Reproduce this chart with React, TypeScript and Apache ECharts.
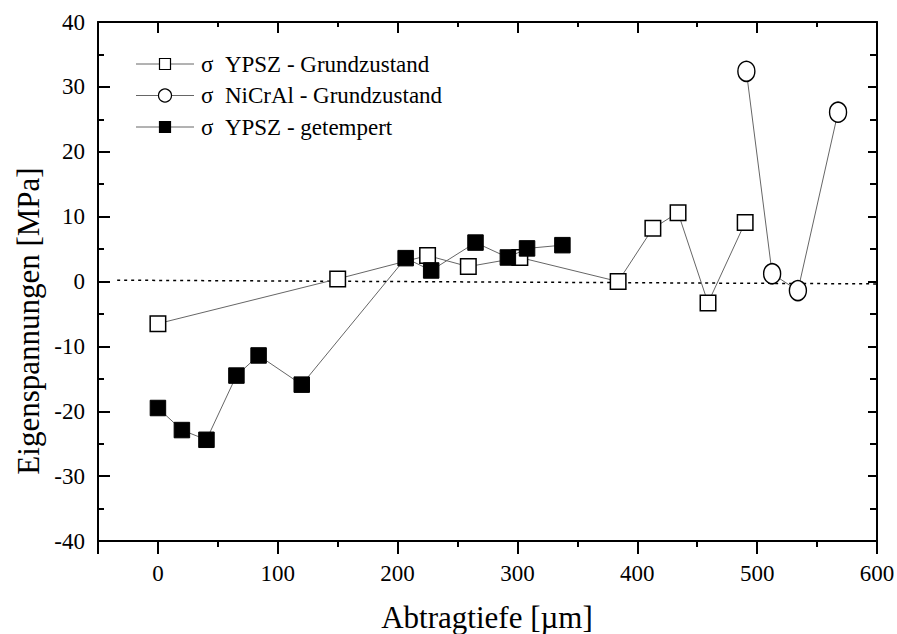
import React, { useEffect, useRef } from "react";
import * as echarts from "echarts";

const seriesNames = [
  "σ  YPSZ - Grundzustand",
  "σ  NiCrAl - Grundzustand",
  "σ  YPSZ - getempert",
];

const ypszGrundX = [0, 150, 225, 259, 302, 384, 413, 434, 459, 490];
const ypszGrundY = [-6.5, 0.4, 4.0, 2.3, 3.7, 0.0, 8.2, 10.6, -3.3, 9.1];

const nicralX = [491, 512.5, 534, 567.5];
const nicralY = [32.4, 1.2, -1.4, 26.1];

const ypszTempX = [0, 20, 40.5, 65.5, 84, 120, 206.7, 228, 265, 292, 308, 337.5];
const ypszTempY = [-19.5, -22.9, -24.4, -14.5, -11.4, -15.9, 3.6, 1.7, 6.0, 3.7, 5.1, 5.6];

const refLineX = [-34, 600];
const refLineY = [0.2, -0.37];

const xTickValues = [0, 100, 200, 300, 400, 500, 600];
const yTickValues = [-40, -30, -20, -10, 0, 10, 20, 30, 40];

const xTitle = "Abtragtiefe [µm]";
const yTitle = "Eigenspannungen [MPa]";

const FONT = "Liberation Serif";
const X_MIN = -50;
const X_MAX = 600;
const Y_MIN = -40;
const Y_MAX = 40;

function pairs(xs: number[], ys: number[]) {
  return xs.map((x, i) => [x, ys[i]]);
}

function textEl(text: string, x: number, y: number, align: string, size: number, rotation = 0) {
  return {
    type: "text",
    x,
    y,
    rotation,
    z: 100,
    style: {
      text,
      font: `${size}px ${FONT}`,
      fill: "#000",
      align,
      verticalAlign: "middle",
    },
  };
}

export default function App() {
  const ref = useRef<HTMLDivElement>(null);
  useEffect(() => {
    document.body.style.margin = "0";
    if (!ref.current) return;
    const chart = echarts.init(ref.current, null, { renderer: "svg" });
    const axisLine = { show: true, onZero: false, lineStyle: { color: "#000", width: 2 } };
    const lineStyle = { color: "#666", width: 1 };
    chart.setOption({
      animation: false,
      backgroundColor: "#fff",
      grid: { left: 98, right: 20, top: 22, bottom: 93 },
      xAxis: [
        {
          type: "value",
          position: "bottom",
          min: X_MIN,
          max: X_MAX,
          splitNumber: 6,
          axisLine,
          axisTick: { show: true, inside: false, length: 13, lineStyle: { color: "#000", width: 2 } },
          minorTick: { show: true, splitNumber: 2, length: 6, lineStyle: { color: "#000", width: 2 } },
          splitLine: { show: false },
          axisLabel: { show: false },
        },
        {
          type: "value",
          position: "top",
          min: X_MIN,
          max: X_MAX,
          splitNumber: 6,
          axisLine,
          axisTick: { show: true, inside: true, length: 11, lineStyle: { color: "#000", width: 2 } },
          minorTick: { show: true, splitNumber: 2, length: 5, lineStyle: { color: "#000", width: 2 } },
          splitLine: { show: false },
          axisLabel: { show: false },
        },
      ],
      yAxis: [
        {
          type: "value",
          position: "left",
          min: Y_MIN,
          max: Y_MAX,
          interval: 10,
          axisLine,
          axisTick: { show: true, inside: true, length: 12, lineStyle: { color: "#000", width: 2 } },
          minorTick: { show: true, splitNumber: 2, length: 6, lineStyle: { color: "#000", width: 2 } },
          splitLine: { show: false },
          axisLabel: { show: false },
        },
        {
          type: "value",
          position: "right",
          min: Y_MIN,
          max: Y_MAX,
          interval: 10,
          axisLine,
          axisTick: { show: true, inside: true, length: 9, lineStyle: { color: "#000", width: 2 } },
          minorTick: { show: true, splitNumber: 2, length: 7, lineStyle: { color: "#000", width: 2 } },
          splitLine: { show: false },
          axisLabel: { show: false },
        },
      ],
      series: [
        {
          type: "line",
          name: "ref",
          data: pairs(refLineX, refLineY),
          symbol: "none",
          silent: true,
          lineStyle: { color: "#000", width: 1.5, type: [3, 4] },
          z: 1,
        },
        {
          type: "line",
          name: seriesNames[0],
          data: pairs(ypszGrundX, ypszGrundY),
          symbol: "rect",
          symbolSize: 15.5,
          showAllSymbol: true,
          lineStyle,
          itemStyle: { color: "#fff", borderColor: "#000", borderWidth: 1.5 },
          z: 2,
        },
        {
          type: "line",
          name: seriesNames[1],
          data: pairs(nicralX, nicralY),
          symbol: "circle",
          symbolSize: [17, 20],
          showAllSymbol: true,
          lineStyle,
          itemStyle: { color: "#fff", borderColor: "#000", borderWidth: 1.5 },
          z: 3,
        },
        {
          type: "line",
          name: seriesNames[2],
          data: pairs(ypszTempX, ypszTempY),
          symbol: "rect",
          symbolSize: 15.5,
          showAllSymbol: true,
          lineStyle,
          itemStyle: { color: "#000", borderColor: "#000", borderWidth: 1 },
          z: 4,
        },
      ],
    });

    // Tick labels, titles and legend drawn as text via the chart's own scales
    const leftX = chart.convertToPixel({ xAxisIndex: 0 }, X_MIN) as number;
    const bottomY = chart.convertToPixel({ yAxisIndex: 0 }, Y_MIN) as number;
    const elements: any[] = [];
    xTickValues.forEach((v) => {
      const px = chart.convertToPixel({ xAxisIndex: 0 }, v) as number;
      elements.push(textEl(String(v), px, bottomY + 32, "center", 23));
    });
    yTickValues.forEach((v) => {
      const py = chart.convertToPixel({ yAxisIndex: 0 }, v) as number;
      elements.push(textEl(String(v), leftX - 13, py, "right", 23));
    });
    elements.push(textEl(xTitle, 487, 617, "center", 31));
    elements.push(textEl(yTitle, 28, 321, "center", 31, Math.PI / 2));

    // Legend
    const legendRows = [64, 95.5, 127];
    const legendKinds = ["openRect", "openCircle", "filledRect"];
    legendRows.forEach((ry, i) => {
      elements.push({
        type: "line",
        z: 100,
        shape: { x1: 136, y1: ry, x2: 194, y2: ry },
        style: { stroke: "#666", lineWidth: 1 },
      });
      if (legendKinds[i] === "openCircle") {
        elements.push({
          type: "circle",
          z: 101,
          shape: { cx: 165, cy: ry, r: 6.5 },
          style: { fill: "#fff", stroke: "#000", lineWidth: 1.2 },
        });
      } else {
        elements.push({
          type: "rect",
          z: 101,
          shape: { x: 159.5, y: ry - 5.5, width: 11, height: 11 },
          style: {
            fill: legendKinds[i] === "filledRect" ? "#000" : "#fff",
            stroke: "#000",
            lineWidth: 1.2,
          },
        });
      }
      elements.push(textEl(seriesNames[i], 201, ry, "left", 23));
    });

    chart.setOption({ graphic: { elements } });
    return () => chart.dispose();
  }, []);
  return <div ref={ref} style={{ width: 897, height: 634 }} />;
}
